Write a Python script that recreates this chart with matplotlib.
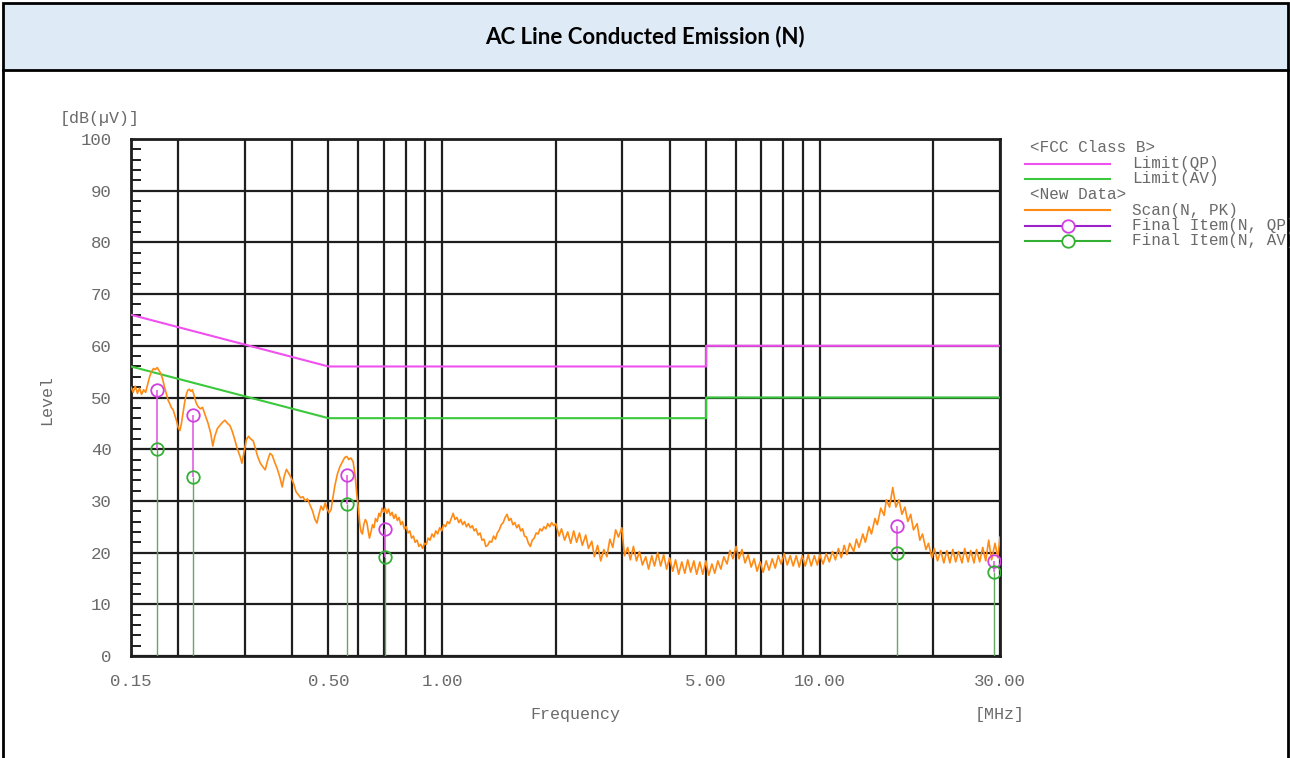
import matplotlib
matplotlib.use('Agg')
import matplotlib.pyplot as plt
from matplotlib.patches import Rectangle
from matplotlib.ticker import FixedLocator, FixedFormatter, MultipleLocator, NullFormatter

title = "AC Line Conducted Emission (N)"

# limit lines (FCC Class B)
qp_limit_freq = [0.15, 0.5, 5.0, 5.0, 30.0]
qp_limit_level = [66, 56, 56, 60, 60]
av_limit_freq = [0.15, 0.5, 5.0, 5.0, 30.0]
av_limit_level = [56, 46, 46, 50, 50]

# scan (N, PK) in three pieces
scan_freq_low = [
    0.150, 0.152, 0.154, 0.156, 0.158, 0.160, 0.162, 0.164, 0.166, 0.168,
    0.170, 0.172, 0.174, 0.176, 0.178, 0.180, 0.182, 0.184, 0.186, 0.188,
    0.190, 0.192, 0.194, 0.196, 0.198, 0.200, 0.202, 0.204, 0.206, 0.208,
    0.210, 0.212, 0.214, 0.216, 0.218, 0.220, 0.223, 0.226, 0.229, 0.232,
    0.236, 0.240, 0.244, 0.247, 0.250, 0.254, 0.258, 0.262, 0.266, 0.270,
    0.274, 0.278, 0.282, 0.287, 0.292, 0.295, 0.299, 0.303, 0.307, 0.311,
    0.316, 0.320, 0.325, 0.330, 0.335, 0.340, 0.345, 0.350, 0.355, 0.360,
    0.366, 0.372, 0.377, 0.382, 0.387, 0.392, 0.398, 0.405, 0.410, 0.416,
    0.422, 0.428, 0.434, 0.440, 0.447, 0.454, 0.460, 0.466, 0.472, 0.478,
    0.484, 0.490, 0.496, 0.502, 0.508,
]
scan_level_low = [
    52.0, 51.0, 52.2, 50.8, 51.8, 50.6, 51.5, 51.0, 52.5, 54.0,
    55.0, 55.6, 55.4, 55.8, 55.2, 54.6, 53.5, 52.0, 50.8, 49.5,
    48.8, 48.0, 47.6, 46.5, 45.5, 44.2, 43.6, 45.0, 47.0, 49.0,
    50.5, 51.4, 51.6, 51.2, 51.5, 50.6, 49.0, 48.2, 47.8, 48.1,
    46.5, 45.0, 43.0, 40.6, 42.5, 44.0, 44.6, 45.2, 45.6, 45.0,
    44.6, 43.5, 42.0, 40.0, 38.5, 37.3, 39.5, 41.8, 42.5, 42.0,
    41.6, 40.2, 38.5, 37.3, 36.6, 36.0, 37.8, 39.2, 38.8, 37.5,
    36.2, 34.5, 32.7, 34.8, 36.1, 35.4, 34.5, 33.2, 31.8, 31.2,
    30.6, 30.8, 30.0, 30.4, 29.2, 28.0, 26.5, 25.7, 27.5, 29.0,
    28.2, 29.6, 28.4, 27.7, 28.3,
]
scan_freq_mid = [
    0.512, 0.520, 0.528, 0.536, 0.545, 0.552, 0.559, 0.566, 0.573, 0.581,
    0.588, 0.594, 0.600, 0.605, 0.610, 0.615, 0.620, 0.626, 0.632, 0.637,
    0.642, 0.648, 0.654, 0.660, 0.666, 0.673, 0.680, 0.686, 0.693, 0.700,
    0.707, 0.714, 0.721, 0.729, 0.737, 0.745, 0.753, 0.761, 0.769, 0.777,
    0.785, 0.794, 0.803, 0.812, 0.821, 0.830, 0.839, 0.848, 0.858, 0.868,
    0.878, 0.888, 0.898, 0.908, 0.918, 0.929, 0.940, 0.951, 0.962, 0.973,
    0.985, 0.997, 1.009, 1.021, 1.033, 1.045, 1.057, 1.069, 1.081, 1.094,
    1.107, 1.120, 1.133, 1.146, 1.160, 1.174, 1.188, 1.202, 1.216, 1.230,
    1.245, 1.260, 1.275, 1.290, 1.305, 1.320, 1.336, 1.352, 1.368, 1.384,
    1.400, 1.417, 1.434, 1.451, 1.468, 1.485, 1.503, 1.521, 1.539, 1.557,
    1.576, 1.595, 1.614, 1.633, 1.652, 1.672, 1.692, 1.712, 1.732, 1.753,
    1.774, 1.795, 1.816, 1.838, 1.860, 1.882, 1.904, 1.927, 1.950, 1.974,
]
scan_level_mid = [
    30.0, 33.0, 35.2, 36.6, 37.6, 38.4, 38.6, 38.0, 38.3, 37.6,
    35.0, 31.5, 28.5, 25.6, 24.0, 23.6, 25.4, 26.4, 25.8, 24.2,
    22.8, 24.0, 25.4, 24.8, 26.6, 26.0, 27.6, 27.0, 28.6, 27.8,
    28.6, 27.6, 28.4, 27.2, 27.8, 26.6, 27.4, 26.2, 26.8, 25.4,
    26.0, 24.6, 25.0, 23.8, 24.2, 22.8, 23.2, 22.0, 22.4, 21.2,
    21.6, 20.8, 21.8, 21.6, 22.8, 22.4, 23.6, 23.0, 24.2, 23.6,
    24.8, 24.2, 25.4, 25.0, 26.0, 25.6, 26.6, 27.6, 26.4, 26.8,
    25.8, 26.4, 25.4, 26.0, 25.0, 25.6, 24.8, 25.2, 24.2, 24.6,
    23.4, 23.8, 22.4, 22.6, 21.2, 21.4, 22.2, 22.0, 23.2, 22.6,
    23.8, 24.4, 25.4, 25.8, 26.8, 27.4, 26.2, 26.6, 25.4, 25.8,
    24.8, 25.4, 24.2, 24.6, 23.2, 23.0, 21.8, 21.2, 22.4, 22.8,
    23.8, 23.6, 24.6, 24.2, 25.0, 24.6, 25.6, 25.0, 25.8, 25.2,
]
scan_freq_high = [
    2.00, 2.04, 2.07, 2.11, 2.15, 2.19, 2.23, 2.27, 2.31, 2.35,
    2.40, 2.44, 2.49, 2.53, 2.58, 2.63, 2.68, 2.73, 2.78, 2.83,
    2.88, 2.93, 2.99, 3.04, 3.10, 3.15, 3.21, 3.27, 3.33, 3.39,
    3.46, 3.52, 3.59, 3.65, 3.72, 3.79, 3.86, 3.93, 4.00, 4.08,
    4.15, 4.23, 4.31, 4.39, 4.47, 4.55, 4.64, 4.72, 4.81, 4.90,
    4.99, 5.08, 5.18, 5.27, 5.37, 5.47, 5.57, 5.68, 5.78, 5.89,
    6.00, 6.11, 6.22, 6.34, 6.46, 6.58, 6.70, 6.82, 6.95, 7.08,
    7.21, 7.34, 7.48, 7.62, 7.76, 7.90, 8.05, 8.20, 8.35, 8.50,
    8.66, 8.82, 8.98, 9.15, 9.32, 9.49, 9.67, 9.85, 10.0, 10.2,
    10.4, 10.6, 10.8, 11.0, 11.2, 11.4, 11.6, 11.8, 12.0, 12.3,
    12.5, 12.7, 13.0, 13.2, 13.5, 13.7, 14.0, 14.2, 14.5, 14.8,
    15.0, 15.3, 15.6, 15.9, 16.2, 16.5, 16.8, 17.1, 17.4, 17.7,
    18.1, 18.4, 18.7, 19.1, 19.4, 19.8, 20.1, 20.5, 20.9, 21.3,
    21.7, 22.1, 22.5, 22.9, 23.3, 23.8, 24.2, 24.7, 25.1, 25.6,
    26.0, 26.5, 27.0, 27.5, 28.0, 28.5, 29.1, 29.6, 30.0,
]
scan_level_high = [
    25.6, 23.2, 24.6, 22.4, 24.0, 21.8, 24.2, 22.0, 23.8, 21.4,
    23.4, 20.8, 22.2, 19.2, 21.4, 18.4, 20.6, 19.2, 22.6, 21.0,
    24.4, 23.0, 24.8, 19.4, 21.0, 18.6, 21.2, 18.4, 20.2, 17.6,
    19.2, 16.8, 19.4, 17.4, 20.0, 17.4, 19.6, 16.8, 19.0, 16.4,
    18.6, 15.8, 18.2, 16.0, 18.6, 16.2, 18.4, 15.8, 18.2, 15.8,
    18.4, 15.6, 17.8, 16.0, 18.4, 16.8, 19.2, 17.8, 20.4, 18.8,
    21.2, 18.8, 20.6, 18.0, 19.6, 17.2, 18.8, 16.4, 18.2, 16.2,
    18.4, 16.6, 18.8, 17.0, 19.4, 17.8, 19.8, 17.6, 19.4, 17.4,
    19.4, 17.2, 19.4, 17.4, 19.6, 17.4, 19.4, 17.6, 19.6, 17.8,
    19.8, 18.2, 20.2, 18.6, 20.8, 19.0, 21.4, 19.6, 21.8, 20.2,
    22.6, 21.0, 23.6, 22.0, 25.0, 23.6, 26.6, 25.4, 28.6, 27.2,
    30.2, 28.8, 32.6, 28.8, 30.2, 27.4, 28.8, 26.0, 27.4, 24.4,
    25.6, 22.4, 23.6, 20.6, 21.8, 19.0, 20.8, 18.4, 20.4, 18.0,
    20.4, 18.0, 20.6, 18.2, 20.2, 18.0, 20.8, 18.2, 20.4, 18.0,
    20.6, 18.2, 21.0, 18.4, 22.4, 18.6, 21.8, 19.0, 23.0,
]

# final items
final_freq = [0.176, 0.219, 0.559, 0.705, 16.0, 28.9]
final_qp = [51.5, 46.6, 35.0, 24.6, 25.1, 18.4]
final_av = [40.1, 34.6, 29.4, 19.2, 19.9, 16.2]

tick_freqs = [0.15, 0.5, 1.0, 5.0, 10.0, 30.0]
tick_labels = ["0.15", "0.50", "1.00", "5.00", "10.00", "30.00"]
grid_freqs = [0.2, 0.3, 0.4, 0.6, 0.7, 0.8, 0.9, 2, 3, 4, 6, 7, 8, 9, 20]

scan_freq = scan_freq_low + scan_freq_mid + scan_freq_high
scan_level = scan_level_low + scan_level_mid + scan_level_high

qp_color = '#F050F0'
av_color = '#3CC83C'
scan_color = '#FF8A14'
qp_mark = '#D040E0'
qp_line = '#9A22C8'
av_mark = '#33B033'
text_gray = '#6A6A6A'
mono = 'Liberation Mono'

fig = plt.figure(figsize=(12.9, 7.58), dpi=100)

# page frame, title band and free texts in pixel coordinates
page = fig.add_axes([0, 0, 1, 1])
page.set_xlim(0, 1290)
page.set_ylim(758, 0)
page.axis('off')
page.add_patch(Rectangle((3, 3), 1285, 67, facecolor='#DEEAF6', edgecolor='black', lw=2))
page.plot([3, 3], [70, 758], color='black', lw=2)
page.plot([1288, 1288], [70, 758], color='black', lw=2)
page.text(645, 37, title, ha='center', va='center', fontsize=16,
          fontweight='bold', family='Lato')

page.text(100, 118, "[dB(\u00b5V)]", ha='center', va='center', fontsize=12,
          family=mono, color=text_gray)
page.text(47, 400, "Level", ha='center', va='center', rotation=90, fontsize=12,
          family=mono, color=text_gray)
page.text(575, 714, "Frequency", ha='center', va='center', fontsize=12,
          family=mono, color=text_gray)
page.text(1000, 714, "[MHz]", ha='center', va='center', fontsize=12,
          family=mono, color=text_gray)

# legend
leg_rows = [148, 163.5, 179, 194.5, 210, 225.5, 241]
leg_kw = dict(ha='left', va='center', fontsize=11.5, family=mono, color=text_gray)
page.text(1030, leg_rows[0], "<FCC Class B>", **leg_kw)
page.plot([1025, 1110], [leg_rows[1]] * 2, color=qp_color, lw=1.5)
page.text(1132, leg_rows[1], "Limit(QP)", **leg_kw)
page.plot([1025, 1110], [leg_rows[2]] * 2, color=av_color, lw=1.5)
page.text(1132, leg_rows[2], "Limit(AV)", **leg_kw)
page.text(1030, leg_rows[3], "<New Data>", **leg_kw)
page.plot([1025, 1110], [leg_rows[4]] * 2, color=scan_color, lw=1.5)
page.text(1132, leg_rows[4], "Scan(N, PK)", **leg_kw)
page.plot([1025, 1110], [leg_rows[5]] * 2, color=qp_line, lw=1.5)
page.plot([1068], [leg_rows[5]], 'o', mfc='white', mec=qp_mark, ms=9, mew=1.3)
page.text(1132, leg_rows[5], "Final Item(N, QP)", **leg_kw)
page.plot([1025, 1110], [leg_rows[6]] * 2, color=av_mark, lw=1.5)
page.plot([1068], [leg_rows[6]], 'o', mfc='white', mec=av_mark, ms=9, mew=1.3)
page.text(1132, leg_rows[6], "Final Item(N, AV)", **leg_kw)

# main plot
ax = fig.add_axes([131 / 1290, 1 - 656 / 758, 869 / 1290, 517 / 758])
ax.set_xscale('log')
ax.set_xlim(0.15, 30)
ax.set_ylim(0, 100)

ax.xaxis.set_major_locator(FixedLocator(tick_freqs))
ax.xaxis.set_major_formatter(FixedFormatter(tick_labels))
ax.xaxis.set_minor_locator(FixedLocator(grid_freqs))
ax.xaxis.set_minor_formatter(NullFormatter())
ax.yaxis.set_major_locator(MultipleLocator(10))
ax.yaxis.set_minor_locator(MultipleLocator(2))

ax.grid(True, which='both', axis='x', color='#1E1E1E', lw=1.6)
ax.grid(True, which='major', axis='y', color='#1E1E1E', lw=1.6)
ax.set_axisbelow(True)

ax.tick_params(axis='x', which='both', length=0, pad=13)
ax.tick_params(axis='y', which='major', length=0, pad=14)
ax.tick_params(axis='y', which='minor', direction='in', length=7, width=1.4,
               color='#1E1E1E', left=True, right=False)
for lab in ax.get_xticklabels() + ax.get_yticklabels():
    lab.set_family(mono)
    lab.set_fontsize(12.5)
    lab.set_color(text_gray)
for sp in ax.spines.values():
    sp.set_linewidth(2)
    sp.set_color('#1E1E1E')

ax.plot(qp_limit_freq, qp_limit_level, color=qp_color, lw=1.5, zorder=3)
ax.plot(av_limit_freq, av_limit_level, color=av_color, lw=1.5, zorder=3)
ax.plot(scan_freq, scan_level, color=scan_color, lw=1.2, zorder=4)

# stems: magenta between AV and QP readings, green from the floor to AV
ax.vlines(final_freq, final_av, final_qp, color='#E060E0', lw=1.2, zorder=5)
ax.vlines(final_freq, 0, final_av, color='#62A862', lw=1.0, zorder=5)
ax.plot(final_freq, final_qp, 'o', mfc='none', mec=qp_mark, ms=9, mew=1.3, zorder=6)
ax.plot(final_freq, final_av, 'o', mfc='none', mec=av_mark, ms=9, mew=1.3, zorder=6)

fig.savefig('out.png', dpi=100)
